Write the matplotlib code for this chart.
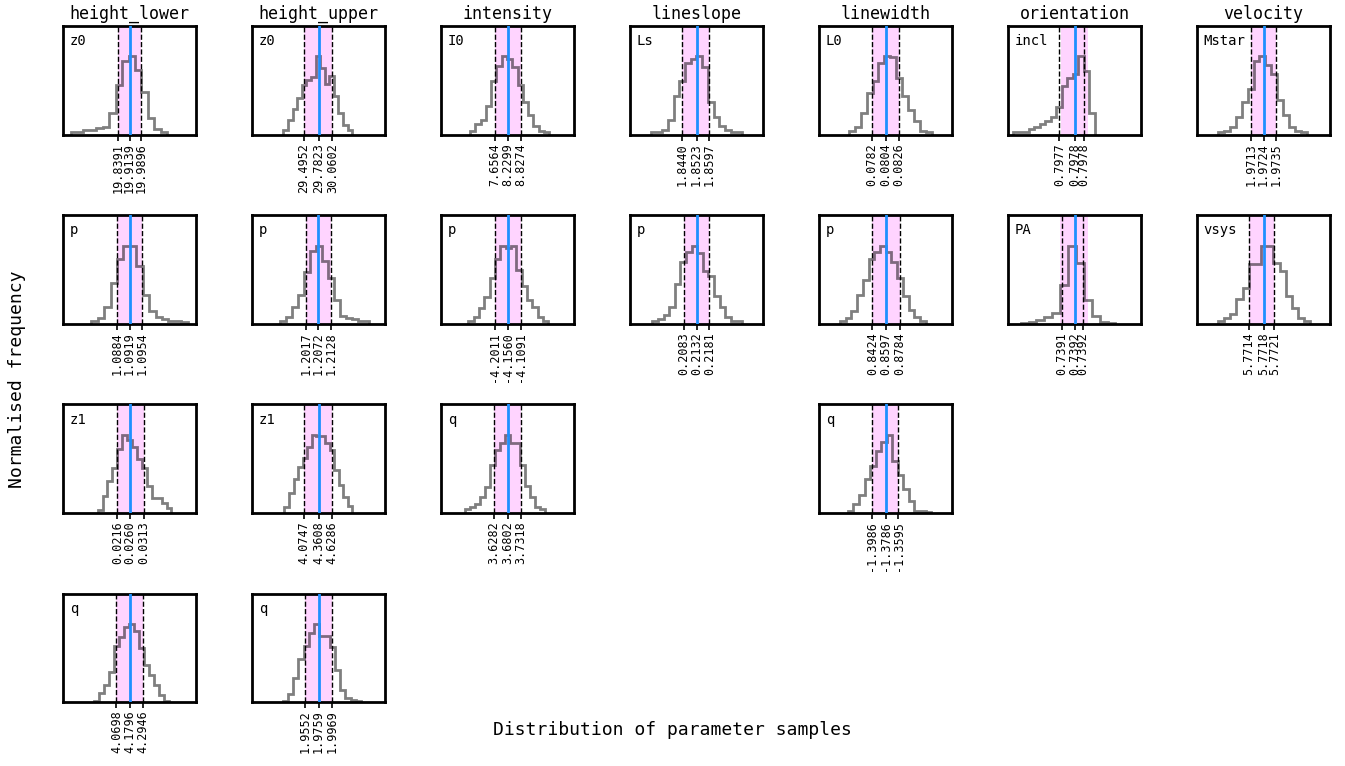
import matplotlib
matplotlib.use("Agg")
import matplotlib.pyplot as plt
import numpy as np

plt.rcParams['font.family'] = ['DejaVu Sans Mono']

# ---------------- data ----------------
columns = ['height_lower', 'height_upper', 'intensity', 'lineslope',
           'linewidth', 'orientation', 'velocity']
params = {
    'height_lower': ['z0', 'p', 'z1', 'q'],
    'height_upper': ['z0', 'p', 'z1', 'q'],
    'intensity':    ['I0', 'p', 'q'],
    'lineslope':    ['Ls', 'p'],
    'linewidth':    ['L0', 'p', 'q'],
    'orientation':  ['incl', 'PA'],
    'velocity':     ['Mstar', 'vsys'],
}

# percentiles (16th, 50th, 84th)
quantiles = {
    ('height_lower', 'z0'): (19.8391, 19.9139, 19.9896),
    ('height_upper', 'z0'): (29.4952, 29.7823, 30.0602),
    ('intensity', 'I0'):    (7.6564, 8.2299, 8.8274),
    ('lineslope', 'Ls'):    (1.8440, 1.8523, 1.8597),
    ('linewidth', 'L0'):    (0.0782, 0.0804, 0.0826),
    ('orientation', 'incl'): (0.79772, 0.797763, 0.79779),
    ('velocity', 'Mstar'):  (1.9713, 1.9724, 1.9735),
    ('height_lower', 'p'):  (1.0884, 1.0919, 1.0954),
    ('height_upper', 'p'):  (1.2017, 1.2072, 1.2128),
    ('intensity', 'p'):     (-4.2011, -4.1560, -4.1091),
    ('lineslope', 'p'):     (0.2083, 0.2132, 0.2181),
    ('linewidth', 'p'):     (0.8424, 0.8597, 0.8784),
    ('orientation', 'PA'):  (0.73912, 0.739161, 0.73919),
    ('velocity', 'vsys'):   (5.7714, 5.7718, 5.7721),
    ('height_lower', 'z1'): (0.0216, 0.0260, 0.0313),
    ('height_upper', 'z1'): (4.0747, 4.3608, 4.6286),
    ('intensity', 'q'):     (3.6282, 3.6802, 3.7318),
    ('linewidth', 'q'):     (-1.3986, -1.3786, -1.3595),
    ('height_lower', 'q'):  (4.0698, 4.1796, 4.2946),
    ('height_upper', 'q'):  (1.9552, 1.9759, 1.9969),
}

# shaded credible interval where it differs from (p16, p84)
shade = {
    ('orientation', 'incl'): (0.797723, 0.797803),
    ('orientation', 'PA'):   (0.7391122, 0.7392056),
}

# histogram range of samples (first edge, last edge)
hist_range = {
    ('height_lower', 'z0'): (19.541, 20.153),
    ('height_upper', 'z0'): (29.086, 30.452),
    ('intensity', 'I0'):    (6.563, 10.090),
    ('lineslope', 'Ls'):    (1.8253, 1.8792),
    ('linewidth', 'L0'):    (0.0744, 0.0880),
    ('orientation', 'incl'): (0.7975855, 0.7978205),
    ('velocity', 'Mstar'):  (1.96843, 1.97619),
    ('height_lower', 'p'):  (1.08112, 1.10837),
    ('height_upper', 'p'):  (1.19003, 1.22999),
    ('intensity', 'p'):     (-4.2929, -4.0133),
    ('lineslope', 'p'):     (0.19627, 0.23064),
    ('linewidth', 'p'):     (0.7997, 0.9128),
    ('orientation', 'PA'):  (0.7389811, 0.7392978),
    ('velocity', 'vsys'):   (5.770534, 5.773104),
    ('height_lower', 'z1'): (0.01433, 0.04135),
    ('height_upper', 'z1'): (3.6901, 5.0249),
    ('intensity', 'q'):     (3.5156, 3.8277),
    ('linewidth', 'q'):     (-1.43386, -1.3116),
    ('height_lower', 'q'):  (3.8785, 4.5084),
    ('height_upper', 'q'):  (1.9223, 2.0399),
}

# normalised histogram heights
hist_counts = {
    ('height_lower', 'z0'): [0.026, 0.026, 0.06, 0.06, 0.08, 0.10, 0.28, 0.63, 0.94, 1.0, 0.82, 0.55, 0.21, 0.07, 0.026],
    ('height_upper', 'z0'): [0.06, 0.19, 0.33, 0.47, 0.63, 0.70, 0.74, 1.0, 0.85, 0.65, 0.75, 0.49, 0.27, 0.12, 0.06],
    ('intensity', 'I0'):    [0.05, 0.13, 0.18, 0.36, 0.69, 0.88, 1.0, 0.97, 0.86, 0.64, 0.41, 0.25, 0.11, 0.05, 0.03],
    ('lineslope', 'Ls'):    [0.026, 0.026, 0.06, 0.19, 0.49, 0.68, 0.91, 0.97, 1.0, 0.87, 0.42, 0.23, 0.11, 0.06, 0.03, 0.026],
    ('linewidth', 'L0'):    [0.04, 0.10, 0.28, 0.53, 0.69, 0.92, 1.0, 0.99, 0.72, 0.49, 0.32, 0.17, 0.05, 0.03],
    ('orientation', 'incl'): [0.026, 0.03, 0.03, 0.07, 0.09, 0.14, 0.17, 0.23, 0.35, 0.62, 0.72, 0.78, 1.0, 0.81, 0.27],
    ('velocity', 'Mstar'):  [0.03, 0.05, 0.09, 0.23, 0.42, 0.58, 0.94, 1.0, 0.89, 0.78, 0.44, 0.25, 0.10, 0.05, 0.03],
    ('height_lower', 'p'):  [0.03, 0.07, 0.22, 0.52, 0.83, 1.0, 1.0, 0.74, 0.37, 0.16, 0.09, 0.06, 0.04, 0.04, 0.02],
    ('height_upper', 'p'):  [0.04, 0.09, 0.22, 0.37, 0.66, 0.93, 1.0, 0.80, 0.59, 0.30, 0.10, 0.07, 0.06, 0.04, 0.03],
    ('intensity', 'p'):     [0.04, 0.09, 0.20, 0.34, 0.58, 0.83, 1.0, 0.97, 1.0, 0.69, 0.48, 0.30, 0.22, 0.09, 0.04],
    ('lineslope', 'p'):     [0.03, 0.06, 0.11, 0.22, 0.51, 0.79, 0.92, 1.0, 0.90, 0.68, 0.61, 0.35, 0.21, 0.09, 0.04, 0.03],
    ('linewidth', 'p'):     [0.03, 0.07, 0.16, 0.37, 0.56, 0.83, 0.92, 1.0, 0.92, 0.79, 0.58, 0.35, 0.18, 0.09, 0.04],
    ('orientation', 'PA'):  [0.01, 0.02, 0.05, 0.09, 0.14, 0.49, 1.0, 0.78, 0.30, 0.10, 0.02, 0.01],
    ('velocity', 'vsys'):   [0.03, 0.07, 0.12, 0.32, 0.46, 0.76, 0.76, 1.0, 1.0, 0.78, 0.67, 0.35, 0.20, 0.07, 0.03],
    ('height_lower', 'z1'): [0.04, 0.22, 0.41, 0.57, 0.82, 1.0, 0.93, 0.84, 0.69, 0.58, 0.34, 0.19, 0.19, 0.13, 0.06],
    ('height_upper', 'z1'): [0.08, 0.25, 0.43, 0.59, 0.70, 0.85, 1.0, 0.98, 0.98, 0.89, 0.81, 0.55, 0.36, 0.21, 0.09],
    ('intensity', 'q'):     [0.05, 0.08, 0.11, 0.20, 0.33, 0.62, 0.80, 0.90, 1.0, 0.89, 0.90, 0.62, 0.34, 0.20, 0.08, 0.05],
    ('linewidth', 'q'):     [0.02, 0.11, 0.23, 0.43, 0.60, 0.79, 0.91, 1.0, 0.66, 0.48, 0.30, 0.15, 0.02, 0.02, 0.01],
    ('height_lower', 'q'):  [0.02, 0.12, 0.22, 0.38, 0.72, 0.84, 0.96, 1.0, 0.91, 0.69, 0.48, 0.35, 0.22, 0.09, 0.02],
    ('height_upper', 'q'):  [0.02, 0.10, 0.31, 0.55, 0.72, 0.89, 1.0, 0.85, 0.85, 0.70, 0.41, 0.16, 0.05, 0.03, 0.01],
}

# half width of the displayed x range around the median
x_halfwidth = {
    ('height_lower', 'z0'): 0.421,
    ('height_upper', 'z0'): 1.321,
    ('intensity', 'I0'):    2.957,
    ('lineslope', 'Ls'):    0.0392,
    ('linewidth', 'L0'):    0.01085,
    ('orientation', 'incl'): 0.0001905,
    ('velocity', 'Mstar'):  0.005795,
    ('height_lower', 'p'):  0.0188,
    ('height_upper', 'p'):  0.02975,
    ('intensity', 'p'):     0.2324,
    ('lineslope', 'p'):     0.02546,
    ('linewidth', 'p'):     0.0877,
    ('orientation', 'PA'):  0.0002222,
    ('velocity', 'vsys'):   0.001846,
    ('height_lower', 'z1'): 0.02431,
    ('height_upper', 'z1'): 1.3114,
    ('intensity', 'q'):     0.259,
    ('linewidth', 'q'):     0.0978,
    ('height_lower', 'q'):  0.5592,
    ('height_upper', 'q'):  0.0998,
}

# ---------------- figure ----------------
W, H = 1345, 766
fig = plt.figure(figsize=(W / 100, H / 100), dpi=100)
fig.patch.set_facecolor('white')

col_left0, col_step, ax_w = 63, 189, 133
row_top0, row_step, ax_h = 26, 189.2, 108.5

for c, col in enumerate(columns):
    for r, name in enumerate(params[col]):
        key = (col, name)
        left = (col_left0 + col_step * c) / W
        top = row_top0 + row_step * r
        bottom = 1 - (top + ax_h) / H
        ax = fig.add_axes([left, bottom, ax_w / W, ax_h / H])

        lo, med, hi = quantiles[key]
        s_lo, s_hi = shade.get(key, (lo, hi))
        counts = np.array(hist_counts[key])
        e0, e1 = hist_range[key]
        edges = np.linspace(e0, e1, len(counts) + 1)

        ax.axvspan(s_lo, s_hi, color='magenta', alpha=0.17, lw=0, zorder=1)
        ax.stairs(counts, edges, baseline=0, color='black', alpha=0.5, lw=2.0, zorder=2)
        ax.axvline(lo, color='black', ls='--', lw=1.0, zorder=3)
        ax.axvline(hi, color='black', ls='--', lw=1.0, zorder=3)
        ax.axvline(med, color='dodgerblue', lw=2.0, zorder=4)

        hw = x_halfwidth[key]
        ax.set_xlim(med - hw, med + hw)
        ax.set_ylim(0, 1.39)
        ax.set_yticks([])
        ax.set_xticks([lo, med, hi])
        ax.set_xticklabels([f'{v:.4f}' for v in (lo, med, hi)], rotation=90,
                           fontsize=8.5)
        ax.tick_params(axis='x', length=4, width=1.2, pad=2)
        for sp in ax.spines.values():
            sp.set_linewidth(2.0)
        ax.text(0.05, 0.86, name, transform=ax.transAxes, fontsize=10,
                ha='left', va='center')
        if r == 0:
            ax.set_title(col, fontsize=12, pad=5)

fig.text(672 / W, 1 - 730 / H, 'Distribution of parameter samples',
         ha='center', va='center', fontsize=13)
fig.text(17 / W, 1 - 379 / H, 'Normalised frequency', rotation=90,
         ha='center', va='center', fontsize=13)

fig.savefig('out.png', dpi=100)
